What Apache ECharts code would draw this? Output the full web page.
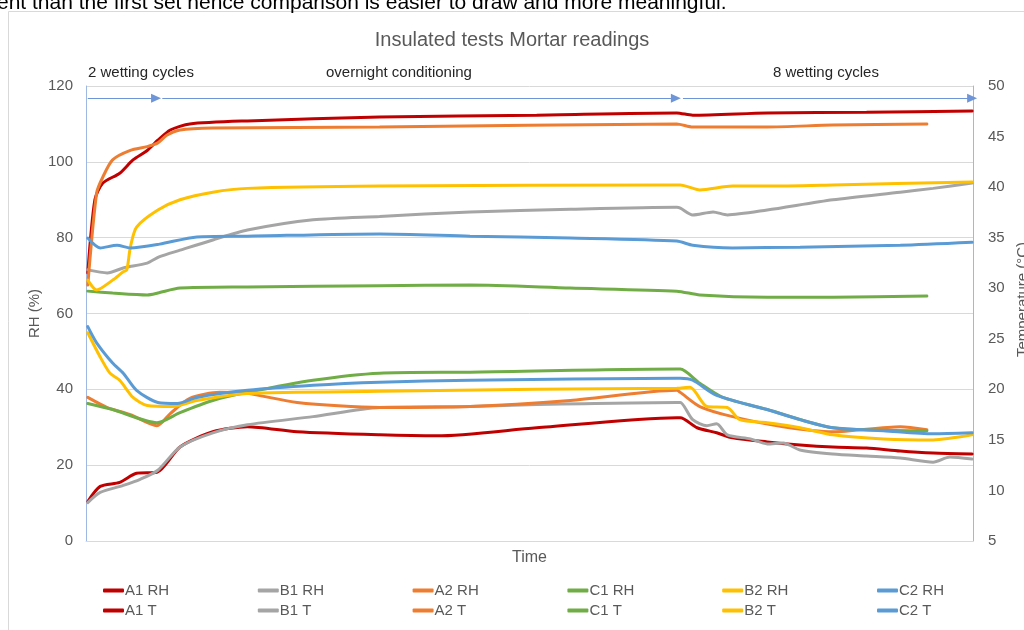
<!DOCTYPE html>
<html>
<head>
<meta charset="utf-8">
<title>Insulated tests Mortar readings</title>
<script src="https://cdn.jsdelivr.net/npm/echarts@6/dist/echarts.min.js"></script>
<style>
  html, body { margin: 0; padding: 0; background: #fff; }
  #chart { width: 1024px; height: 630px; }
</style>
</head>
<body>
<div id="chart"></div>
<script>
// time runs 0..100 (share of the whole test), RH on left axis, T on right axis
var phaseBounds = [8.2, 66.8];
var phaseLabels = ['2 wetting cycles', 'overnight conditioning', '8 wetting cycles'];
var rhTicks = [0, 120, 20];
var tTicks = [5, 50, 5];

var names = ['A1 RH', 'B1 RH', 'A2 RH', 'C1 RH', 'B2 RH', 'C2 RH',
             'A1 T', 'B1 T', 'A2 T', 'C1 T', 'B2 T', 'C2 T'];
var colors = ['#c00000', '#a5a5a5', '#ed7d31', '#70ad47', '#ffc000', '#5b9bd5'];

var a1rh = [[0.2,70.7],[1.0,90],[1.9,94.4],[3.8,97],[5.3,100.5],[6.9,103],[8.1,105.7],[9.5,108.4],[11.7,110],[18.2,110.8],[33.1,111.8],[50.8,112.3],[66.6,112.9],[68.4,112.3],[76.8,112.9],[88.0,113.1],[99.9,113.4]];
var b1rh = [[0.2,71.5],[2.4,70.7],[4.2,72],[6.9,73.3],[8.3,75],[10.6,76.7],[14.3,79.4],[18.2,82],[25.6,84.7],[33.1,85.6],[43.3,86.8],[54.6,87.5],[66.6,88],[67.0,87.8],[68.4,86],[70.7,86.8],[72.3,86],[76.8,87.3],[84.2,90],[91.8,92],[95.5,93],[99.9,94.4]];
var a2rh = [[0.2,67.5],[1.2,91.8],[1.9,96],[3.0,100.5],[5.0,103],[6.9,104],[8.1,105],[9.1,107],[10.6,108.4],[14.3,108.9],[33.1,109.2],[66.6,110],[68.4,109.2],[76.8,109.2],[84.2,109.7],[94.8,110]];
var c1rh = [[0.2,65.9],[3.0,65.4],[6.9,64.9],[8.1,65.4],[10.6,66.7],[18.2,67],[33.1,67.3],[43.3,67.5],[54.6,66.7],[66.6,65.9],[69.2,64.9],[76.8,64.3],[84.2,64.3],[94.8,64.6]];
var b2rh = [[0.2,68.8],[1.2,66.2],[3.0,68.8],[4.2,71],[4.6,71.5],[5.0,77.5],[5.7,82.8],[8.1,87.3],[10.6,90],[14.3,92],[18.2,93],[33.1,93.6],[66.6,93.9],[67.0,93.9],[69.2,92.6],[72.9,93.6],[76.8,93.6],[84.2,93.9],[99.9,94.7]];
var c2rh = [[0.2,79.9],[1.6,77.3],[3.5,78],[5.0,77.3],[8.3,78.3],[12.5,80.2],[18.2,80.4],[33.1,81],[43.3,80.4],[54.6,79.9],[66.6,79.1],[68.4,78],[72.9,77.3],[80.5,77.5],[91.8,78],[99.9,78.8]];

var a1t = [[0.2,8.9],[1.6,10.4],[3.8,10.8],[5.7,11.7],[8.0,11.8],[10.6,14.3],[14.3,15.8],[18.2,16.3],[23.8,15.8],[33.1,15.5],[39.6,15.4],[50.8,16.2],[66.6,17.2],[67.0,17.2],[68.9,16.2],[71.1,15.7],[72.9,15.2],[76.8,14.8],[80.5,14.5],[84.2,14.3],[88.0,14.2],[91.8,13.9],[95.5,13.7],[99.9,13.6]];
var b1t = [[0.2,8.8],[1.6,9.8],[4.2,10.5],[6.1,11.1],[8.1,12],[10.6,14.3],[14.3,15.7],[18.2,16.5],[25.6,17.3],[33.1,18.2],[43.3,18.3],[50.8,18.5],[66.6,18.7],[67.0,18.7],[68.4,17],[70.0,16.4],[71.1,16.6],[72.3,15.5],[74.9,15.1],[76.8,14.6],[78.6,14.7],[80.5,14],[84.2,13.6],[88.0,13.4],[91.8,13.2],[95.5,12.8],[97.4,13.3],[99.9,13.1]];
var a2t = [[0.2,19.2],[2.4,18.2],[5.0,17.5],[8.0,16.4],[9.5,17.6],[11.7,19.1],[15.1,19.7],[18.2,19.6],[23.8,18.7],[33.1,18.2],[43.3,18.3],[54.6,18.9],[66.6,19.9],[67.0,19.7],[69.2,18.3],[72.9,17.3],[78.6,16.3],[84.2,15.8],[91.8,16.3],[94.8,16]];
var c1t = [[0.2,18.6],[3.0,18],[8.0,16.7],[10.6,17.7],[14.3,18.9],[18.2,19.7],[25.6,20.9],[33.1,21.6],[43.3,21.7],[66.6,22],[67.0,22],[69.2,20.6],[71.8,19.2],[76.8,18],[84.2,16.2],[94.8,15.9]];
var b2t = [[0.2,25.6],[1.6,23.2],[2.7,21.6],[3.8,20.9],[5.3,19.2],[6.9,18.4],[9.8,18.3],[12.5,18.9],[18.2,19.6],[33.1,19.8],[50.8,20],[66.6,20.1],[68.1,20.2],[70.0,18.3],[72.3,18.2],[73.7,17],[76.8,16.7],[80.5,16.2],[84.2,15.5],[89.9,15.1],[95.5,15],[99.9,15.5]];
var c2t = [[0.2,26.2],[1.2,24.6],[3.0,22.6],[4.2,21.6],[5.7,19.9],[8.1,18.7],[10.3,18.6],[12.5,19.2],[18.2,19.9],[25.6,20.4],[33.1,20.7],[43.3,20.9],[66.6,21.1],[67.0,21.1],[68.4,20.9],[71.1,19.4],[76.8,18],[80.5,17],[84.2,16.2],[89.9,15.9],[95.5,15.6],[99.9,15.7]];

var allData = [a1rh, b1rh, a2rh, c1rh, b2rh, c2rh, a1t, b1t, a2t, c1t, b2t, c2t];

var FONT = 'Liberation Sans, Arial, sans-serif';
var GREY = '#595959';
var LINE_BLUE = '#9fb8e3';
var ARROW_BLUE = '#6e95d8';

var myChart = echarts.init(document.getElementById('chart'));

var series = [];
for (var i = 0; i < allData.length; i++) {
    series.push({
        name: names[i],
        type: 'line',
        yAxisIndex: i < 6 ? 0 : 1,
        data: allData[i],
        showSymbol: false,
        symbol: 'none',
        smooth: 0.25,
        clip: false,
        lineStyle: { width: 3, color: colors[i % 6], cap: 'round' },
        itemStyle: { color: colors[i % 6] },
        z: 3
    });
}

// phase separators and arrows on a helper series
var arrowEnd = { symbol: 'triangle', symbolSize: [9, 10], symbolRotate: -90 };
series.push({
    name: 'phases',
    type: 'line',
    data: [],
    yAxisIndex: 0,
    clip: false,
    silent: true,
    markLine: {
        silent: true,
        animation: false,
        label: { show: false },
        data: [
            [{ coord: [phaseBounds[0], 126], symbol: 'none' }, { coord: [phaseBounds[0], -1], symbol: 'none', lineStyle: { color: LINE_BLUE, width: 1, type: 'solid' } }],
            [{ coord: [phaseBounds[1], 126], symbol: 'none' }, { coord: [phaseBounds[1], -1], symbol: 'none', lineStyle: { color: LINE_BLUE, width: 1, type: 'solid' } }],
            [{ coord: [0.2, 116.8], symbol: 'none' }, Object.assign({ coord: [phaseBounds[0] - 0.3, 116.8], lineStyle: { color: ARROW_BLUE, width: 1, type: 'solid' } }, arrowEnd)],
            [{ coord: [phaseBounds[0] + 0.4, 116.8], symbol: 'none' }, Object.assign({ coord: [phaseBounds[1] - 0.3, 116.8], lineStyle: { color: ARROW_BLUE, width: 1, type: 'solid' } }, arrowEnd)],
            [{ coord: [phaseBounds[1] + 0.5, 116.8], symbol: 'none' }, Object.assign({ coord: [99.9, 116.8], lineStyle: { color: ARROW_BLUE, width: 1, type: 'solid' } }, arrowEnd)]
        ]
    }
});

// one legend per column: RH on top row, T below
var legends = [];
for (var k = 0; k < 6; k++) {
    legends.push({
        data: [names[k], names[k + 6]],
        left: 98 + k * 154.8,
        top: 578,
        orient: 'vertical',
        itemGap: 5,
        itemWidth: 21,
        itemHeight: 4,
        icon: 'roundRect',
        selectedMode: false,
        textStyle: { color: GREY, fontFamily: FONT, fontSize: 15, padding: [0, 0, 0, -4] }
    });
}

var option = {
    animation: false,
    backgroundColor: '#fff',
    title: {
        text: 'Insulated tests Mortar readings',
        left: 'center',
        top: 25,
        textStyle: { color: GREY, fontFamily: FONT, fontSize: 20, fontWeight: 'normal' }
    },
    legend: legends,
    grid: { left: 86, right: 51, top: 86, bottom: 89, outerBoundsMode: 'none', containLabel: false },
    xAxis: {
        type: 'value',
        min: 0,
        max: 100,
        name: 'Time',
        nameLocation: 'middle',
        nameGap: 9,
        nameTextStyle: { color: GREY, fontFamily: FONT, fontSize: 16 },
        axisLine: { show: true, lineStyle: { color: '#d9d9d9' } },
        axisTick: { show: false },
        axisLabel: { show: false },
        splitLine: { show: false }
    },
    yAxis: [{
        type: 'value',
        min: rhTicks[0],
        max: rhTicks[1],
        interval: rhTicks[2],
        name: 'RH (%)',
        nameLocation: 'middle',
        nameGap: 44,
        nameMoveOverlap: false,
        nameTextStyle: { color: GREY, fontFamily: FONT, fontSize: 15 },
        axisLine: { show: true, onZero: false, lineStyle: { color: LINE_BLUE } },
        axisTick: { show: false },
        axisLabel: { color: GREY, fontFamily: FONT, fontSize: 15, margin: 13 },
        splitLine: { lineStyle: { color: '#d9d9d9' } }
    }, {
        type: 'value',
        min: tTicks[0],
        max: tTicks[1],
        interval: tTicks[2],
        name: 'Temperature (°C)',
        nameLocation: 'middle',
        nameGap: 38,
        nameTextStyle: { color: GREY, fontFamily: FONT, fontSize: 15, padding: [0, 0, 0, 28] },
        axisLine: { show: true, onZero: false, lineStyle: { color: LINE_BLUE } },
        axisTick: { show: false },
        axisLabel: { color: GREY, fontFamily: FONT, fontSize: 15, margin: 15 },
        splitLine: { show: false }
    }],
    graphic: [
        {
            type: 'rect',
            shape: { x: 8.5, y: 11.5, width: 1100, height: 700 },
            style: { fill: 'none', stroke: '#d9d9d9', lineWidth: 1 },
            silent: true,
            z: -1
        },
        {
            type: 'text',
            left: -3,
            top: -7,
            style: {
                text: 'ent than the first set hence comparison is easier to draw and more meaningful.',
                fill: '#000',
                font: '21px Liberation Sans, Arial, sans-serif'
            }
        },
        {
            type: 'text', left: 88, top: 65,
            style: { text: phaseLabels[0], fill: '#262626', font: '15px ' + FONT }
        },
        {
            type: 'text', left: 326, top: 65,
            style: { text: phaseLabels[1], fill: '#262626', font: '15px ' + FONT }
        },
        {
            type: 'text', left: 773, top: 65,
            style: { text: phaseLabels[2], fill: '#262626', font: '15px ' + FONT }
        }
    ],
    series: series
};

myChart.setOption(option);
</script>
</body>
</html>
